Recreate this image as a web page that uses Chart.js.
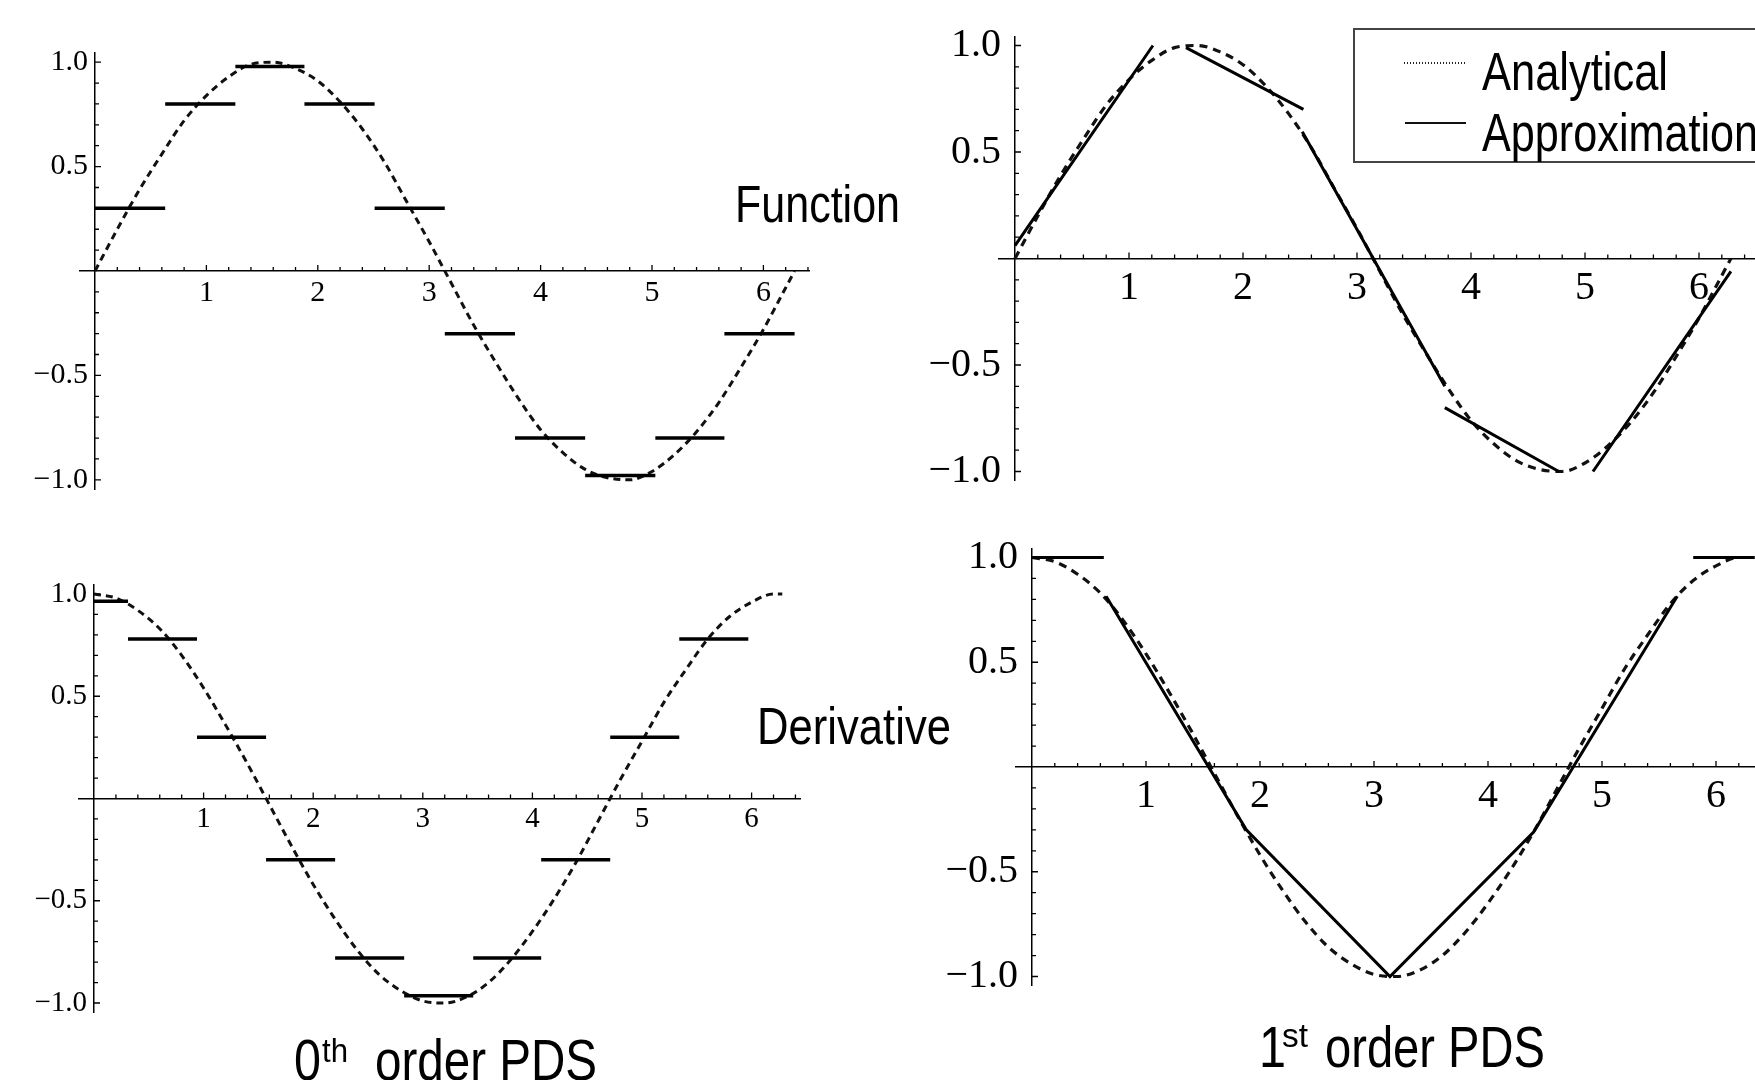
<!DOCTYPE html>
<html><head><meta charset="utf-8">
<script src="https://cdn.jsdelivr.net/npm/chart.js@4.4.1/dist/chart.umd.min.js"></script>
<style>
html,body{margin:0;padding:0;background:#fff;width:1755px;height:1080px;overflow:hidden;position:relative}
canvas{position:absolute}
.t{position:absolute;font-family:"Liberation Sans Narrow","Liberation Sans",Arial,sans-serif;color:#000;white-space:nowrap;transform-origin:0 0;line-height:1}
</style></head><body>
<canvas id="c1"></canvas>
<canvas id="c2"></canvas>
<canvas id="c3"></canvas>
<canvas id="c4"></canvas>
<div id="legendBox" style="position:absolute;left:1353px;top:28px;width:440px;height:135px;border:2px solid #444;background:#fff;box-sizing:border-box"></div>
<div style="position:absolute;left:1404px;top:62px;width:62px;height:1.5px;background:repeating-linear-gradient(90deg,#222 0 1.5px,transparent 1.5px 3px)"></div>
<div style="position:absolute;left:1405px;top:122px;width:61px;height:2px;background:#111"></div>
<script>
// ---------------- data ----------------
const curveX = [0,0.2,0.4,0.6,0.8,1.0,1.2,1.4,1.6,1.8,2.0,2.2,2.4,2.6,2.8,3.0,3.2,3.4,3.6,3.8,4.0,4.2,4.4,4.6,4.8,5.0,5.2,5.4,5.6,5.8,6.0,6.2,6.28];
const functionY = [0,0.20,0.39,0.56,0.72,0.84,0.93,0.99,1.00,0.97,0.91,0.81,0.68,0.52,0.33,0.14,-0.06,-0.26,-0.44,-0.61,-0.76,-0.87,-0.95,-0.99,-1.00,-0.96,-0.88,-0.77,-0.63,-0.46,-0.28,-0.08,0.00];
const derivativeY = [1.00,0.98,0.92,0.83,0.70,0.54,0.36,0.17,-0.03,-0.23,-0.42,-0.59,-0.74,-0.86,-0.94,-0.99,-1.00,-0.97,-0.90,-0.79,-0.65,-0.49,-0.31,-0.11,0.09,0.28,0.47,0.63,0.78,0.89,0.96,1.00,1.00];

// 0th order PDS, function (piecewise constant)
const f0Start = [0,0.63,1.26,1.88,2.51,3.14,3.77,4.40,5.03,5.65];
const f0End   = [0.63,1.26,1.88,2.51,3.14,3.77,4.40,5.03,5.65,6.28];
const f0Val   = [0.30,0.80,0.98,0.80,0.30,-0.30,-0.80,-0.98,-0.80,-0.30];
// 0th order PDS, derivative (piecewise constant)
const d0Start = [0,0.31,0.94,1.57,2.20,2.83,3.46,4.08,4.71,5.34];
const d0End   = [0.31,0.94,1.57,2.20,2.83,3.46,4.08,4.71,5.34,5.97];
const d0Val   = [0.965,0.78,0.30,-0.30,-0.78,-0.965,-0.78,-0.30,0.30,0.78];
// 1st order PDS, function (piecewise linear segments)
const f1X = [[0,1.21],[1.50,2.53],[2.52,3.77],[3.77,4.77],[5.07,6.28]];
const f1Y = [[0.06,1.0],[0.99,0.70],[0.595,-0.60],[-0.70,-1.0],[-1.0,-0.06]];
// 1st order PDS, derivative
const d1X = [[0,0.63],[0.65,1.88,3.14,4.40,5.66],[5.80,6.45]];
const d1Y = [[1.0,1.0],[0.815,-0.30,-1.0,-0.31,0.815],[1.0,1.0]];

const xTickValues = [1,2,3,4,5,6];
const yTickValues = [-1.0,-0.5,0.5,1.0];
const legendLabels = ['Analytical','Approximation'];

// ---------------- helpers ----------------
function curvePoints(ys){ return curveX.map((x,i)=>({x:x,y:ys[i]})); }
function stepPoints(s,e,v){ const p=[]; s.forEach((x,i)=>{p.push({x:x,y:v[i]});p.push({x:e[i],y:v[i]});p.push({x:e[i],y:null});}); return p; }
function segPoints(X,Y){ const p=[]; X.forEach((xs,i)=>{xs.forEach((x,j)=>p.push({x:x,y:Y[i][j]})); p.push({x:xs[xs.length-1],y:null});}); return p; }

const innerTicks = {
  id:'innerTicks',
  beforeDatasetsDraw(chart,args,o){
    const {ctx,scales:{x,y}} = chart;
    const x0 = x.getPixelForValue(0), y0 = y.getPixelForValue(0);
    ctx.save(); ctx.strokeStyle='#000'; ctx.lineWidth=1.3;
    ctx.beginPath();
    for(let k=1;k<=32;k++){ const v=k*0.2; if(v>x.max) break; const px=x.getPixelForValue(v); const major=(k%5===0); ctx.moveTo(px,y0); ctx.lineTo(px,y0-(major?o.major:o.minor)); }
    for(let k=-10;k<=10;k++){ if(k===0) continue; const v=k*0.1; const py=y.getPixelForValue(v); const major=(k%5===0); ctx.moveTo(x0,py); ctx.lineTo(x0+(major?o.major:o.minor),py); }
    ctx.stroke(); ctx.restore();
  }
};

const serif = '"Liberation Serif","Times New Roman",serif';
function makePanel(id, box, origin, ux, uy, xr, yr, datasets, fs, padX, gapY, tick){
  const cv=document.getElementById(id);
  cv.width=box.w; cv.height=box.h; cv.style.left=box.l+'px'; cv.style.top=box.t+'px';
  const caL=origin.x+xr[0]*ux-box.l, caR=origin.x+xr[1]*ux-box.l;
  const caT=origin.y-yr[1]*uy-box.t, caB=origin.y-yr[0]*uy-box.t;
  const yTicks = s=>{s.ticks=yTickValues.map(v=>({value:v}));};
  return new Chart(cv,{
    type:'line',
    data:{datasets:datasets.map(d=>Object.assign({xAxisID:'x',yAxisID:'y'},d))},
    plugins:[innerTicks],
    options:{
      responsive:false, animation:false, devicePixelRatio:1, events:[],
      layout:{padding:{left:caL,right:box.w-caR,top:caT,bottom:box.h-caB}},
      plugins:{legend:{display:false},tooltip:{enabled:false},innerTicks:tick},
      elements:{point:{radius:0}},
      scales:{
        x:{type:'linear',min:xr[0],max:xr[1],position:{y:0},
          afterBuildTicks:s=>{s.ticks=xTickValues.map(v=>({value:v}));},
          ticks:{font:{family:serif,size:fs},color:'#000',padding:padX,maxRotation:0,autoSkip:false,callback:v=>String(v)},
          grid:{display:false,drawTicks:false},border:{display:true,color:'#000',width:1.5}},
        y:{type:'linear',min:yr[0],max:yr[1],position:{x:0},
          afterBuildTicks:yTicks,
          ticks:{display:false},
          grid:{display:false,drawTicks:false},border:{display:true,color:'#000',width:1.5}},
        yl:{type:'linear',axis:'y',min:yr[0],max:yr[1],position:{x:-gapY/ux},
          afterBuildTicks:yTicks,
          ticks:{font:{family:serif,size:fs},color:'#000',padding:0,autoSkip:false,callback:v=>(v<0?'\u2212':'')+Math.abs(v).toFixed(1)},
          grid:{display:false,drawTicks:false},border:{display:false}}
      }
    }
  });
}
const dashStyle = {borderColor:'#111',borderWidth:3,borderDash:[7,5],cubicInterpolationMode:'monotone',fill:false,pointRadius:0};

makePanel('c1',{l:0,t:0,w:880,h:540},{x:95,y:271},111.4,208.8,[-0.14,6.41],[-1.045,1.045],[
  {label:legendLabels[1],data:stepPoints(f0Start,f0End,f0Val),borderColor:'#000',borderWidth:3.5,spanGaps:false,pointRadius:0},
  Object.assign({label:legendLabels[0],data:curvePoints(functionY)},dashStyle)
],30,4.4,7,{major:6,minor:4});

makePanel('c2',{l:880,t:0,w:875,h:540},{x:1015,y:258.5},114,213,[-0.144,6.49],[-1.04,1.04],[
  {label:legendLabels[1],data:segPoints(f1X,f1Y),borderColor:'#000',borderWidth:3,spanGaps:false,pointRadius:0},
  Object.assign({label:legendLabels[0],data:curvePoints(functionY)},dashStyle,{borderWidth:3.2,borderDash:[8,6]})
],40,6.3,14,{major:6,minor:4});

makePanel('c3',{l:0,t:540,w:880,h:540},{x:94,y:798.5},109.6,204.5,[-0.14,6.45],[-1.045,1.045],[
  {label:legendLabels[1],data:stepPoints(d0Start,d0End,d0Val),borderColor:'#000',borderWidth:3.5,spanGaps:false,pointRadius:0},
  Object.assign({label:legendLabels[0],data:curvePoints(derivativeY)},dashStyle)
],29,3.3,7,{major:6,minor:4});

makePanel('c4',{l:880,t:480,w:875,h:600},{x:1032,y:767},114,209.5,[-0.144,6.34],[-1.045,1.04],[
  {label:legendLabels[1],data:segPoints(d1X,d1Y),borderColor:'#000',borderWidth:3,spanGaps:false,pointRadius:0},
  Object.assign({label:legendLabels[0],data:curvePoints(derivativeY)},dashStyle,{borderWidth:3.2,borderDash:[8,6]})
],40,5.1,14,{major:6,minor:4});

// ---------------- text ----------------
function placeText(text,left,baseline,size,width){
  const d=document.createElement('div'); d.className='t'; d.textContent=text; d.style.fontSize=size+'px';
  document.body.appendChild(d);
  const w=d.getBoundingClientRect().width;
  d.style.left=left+'px'; d.style.top=(baseline-0.8465*size)+'px';
  if(width) d.style.transform='scaleX('+(width/w)+')';
  return d;
}
placeText('Function',735,221.7,51,165);
placeText('Derivative',757,744.3,52,194);
placeText(legendLabels[0],1482,89.5,54,186);
placeText(legendLabels[1],1482,150.5,54,null).style.transform='scaleX(0.8)';
placeText('0',294,1080,58,27);
placeText('th',322,1062,34,26);
placeText('order PDS',375,1080,58,222);
placeText('1',1259,1066.7,58,27);
placeText('st',1282,1046.7,34,26);
placeText('order PDS',1325,1066.7,58,220);
</script>
</body></html>
